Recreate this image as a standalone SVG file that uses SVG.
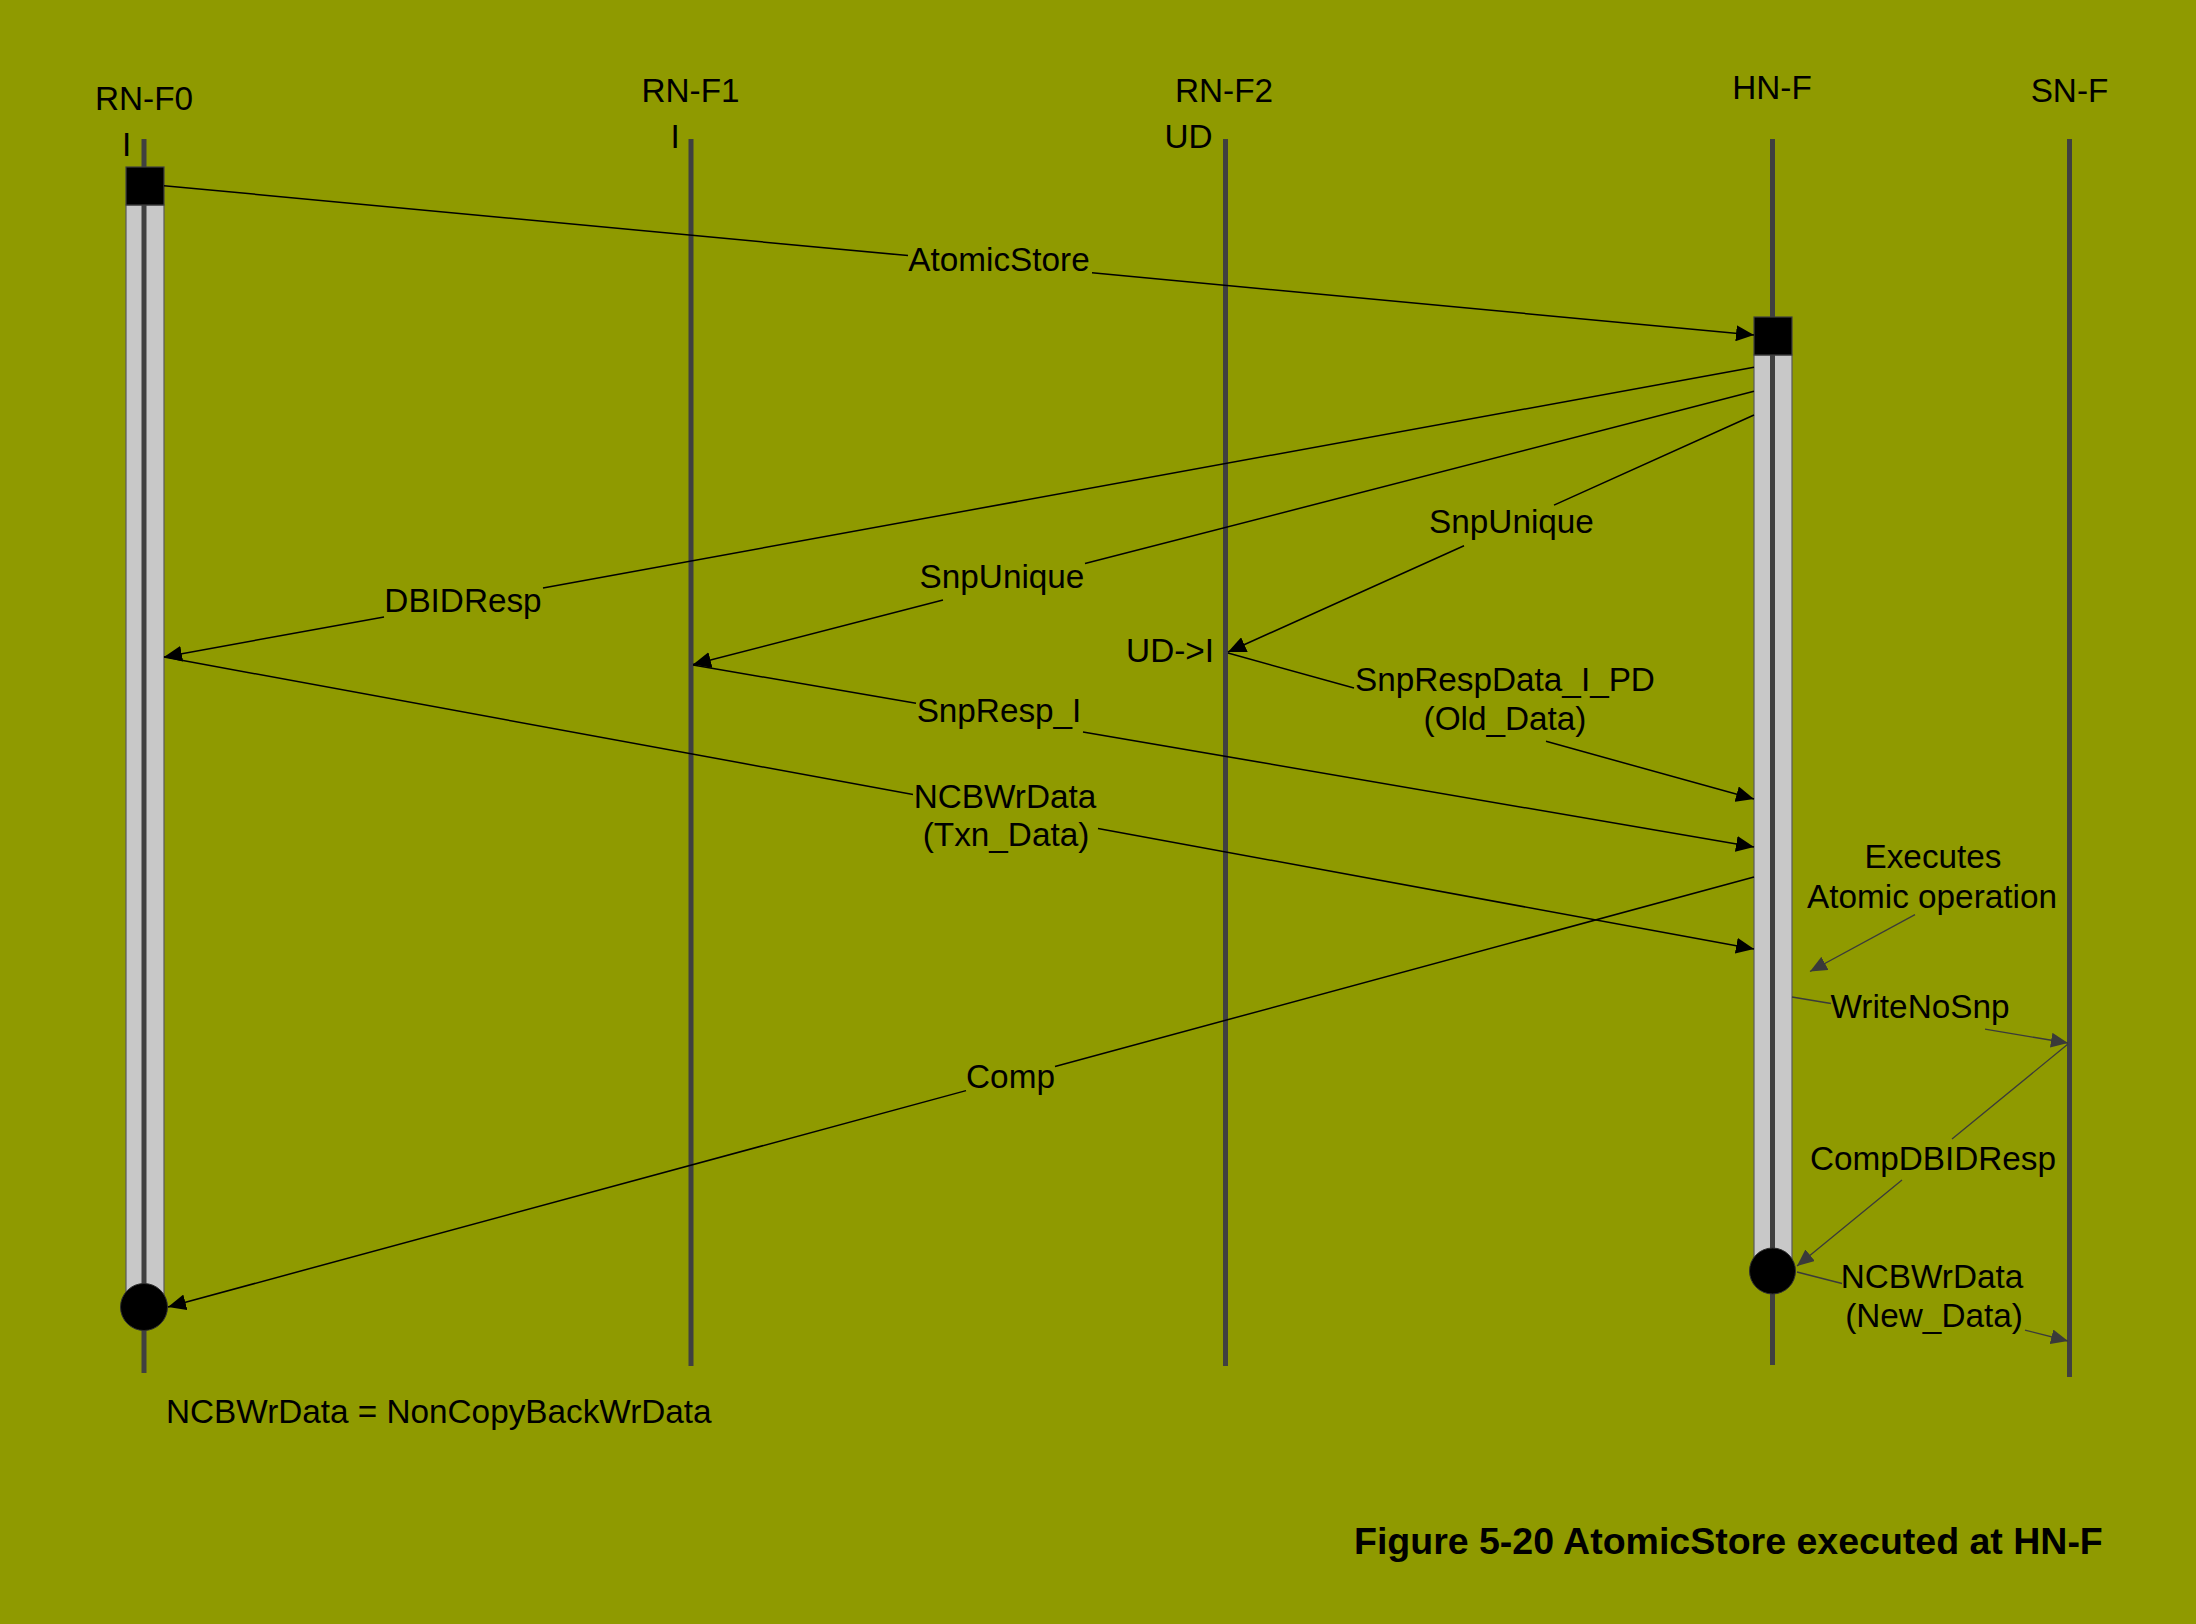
<svg xmlns="http://www.w3.org/2000/svg" width="2196" height="1624" viewBox="0 0 2196 1624">
  <defs>
    <style>
      .bg { fill: #8f9a00; }
      .life { stroke: #404040; stroke-width: 5; fill: none; }
      .bar { fill: #c8c8c8; stroke: #5a5a5a; stroke-width: 1.2; }
      .box { fill: #000000; stroke: #404040; stroke-width: 1.2; }
      .dot { fill: #000000; stroke: #303030; stroke-width: 1; }
      .t { font-family: "Liberation Sans", Arial, sans-serif; font-size: 33.3px; fill: #000000; }
      .c { text-anchor: middle; }
      .e { text-anchor: end; }
      .title { font-family: "Liberation Sans", Arial, sans-serif; font-size: 37.5px; font-weight: bold; fill: #000000; }
      .msg { stroke: #000000; stroke-width: 1.5; fill: none; marker-end: url(#ah); }
      .msg2 { stroke: #3a3a3a; stroke-width: 1.3; fill: none; marker-end: url(#ah2); }
    </style>
    <marker id="ah" markerUnits="userSpaceOnUse" markerWidth="18" markerHeight="16" refX="18" refY="8" orient="auto">
      <path d="M0,0 L18,8 L0,16 z" fill="#000000"/>
    </marker>
    <marker id="ah2" markerUnits="userSpaceOnUse" markerWidth="17" markerHeight="15" refX="17" refY="7.5" orient="auto">
      <path d="M0,0 L17,7.5 L0,15 z" fill="#3a3a3a"/>
    </marker>
  </defs>

  <rect class="bg" x="0" y="0" width="2196" height="1624"/>

  <g id="node-rnf0">
    <text class="t c" x="144" y="110">RN-F0</text>
    <text class="t" x="122" y="156">I</text>
    <rect class="bar" x="126" y="205" width="38" height="1102"/>
    <line class="life" x1="144" y1="139" x2="144" y2="1373"/>
    <rect class="box" x="126" y="167" width="38" height="38"/>
    <circle class="dot" cx="144" cy="1307" r="23.5"/>
  </g>

  <g id="node-rnf1">
    <text class="t c" x="690.5" y="102">RN-F1</text>
    <text class="t" x="670.5" y="148">I</text>
    <line class="life" x1="691" y1="139" x2="691" y2="1366"/>
  </g>

  <g id="node-rnf2">
    <text class="t c" x="1224" y="102">RN-F2</text>
    <text class="t e" x="1212.5" y="148">UD</text>
    <line class="life" x1="1225.5" y1="139" x2="1225.5" y2="1366"/>
    <text class="t e" x="1214" y="662">UD-&gt;I</text>
  </g>

  <g id="node-hnf">
    <text class="t c" x="1772" y="99">HN-F</text>
    <rect class="bar" x="1754" y="355" width="38" height="916"/>
    <line class="life" x1="1772.5" y1="139" x2="1772.5" y2="1365"/>
    <rect class="box" x="1754" y="317" width="38" height="38"/>
    <circle class="dot" cx="1772.5" cy="1271" r="23"/>
    <text class="t c" x="1933" y="868">Executes</text>
    <text class="t c" x="1932" y="908">Atomic operation</text>
  </g>

  <g id="node-snf">
    <text class="t c" x="2069.5" y="102">SN-F</text>
    <line class="life" x1="2069.5" y1="139" x2="2069.5" y2="1377"/>
  </g>

  <g id="connectors">
    <g id="m-atomicstore">
      <path class="msg" d="M164,185.7 L908,255.6 M1092,272.8 L1754,335"/>
      <text class="t c" x="999" y="271">AtomicStore</text>
    </g>
    <g id="m-dbidresp">
      <path class="msg" d="M1754,367.3 L543,587.9 M384,616.9 L164,657"/>
      <text class="t c" x="463" y="612">DBIDResp</text>
    </g>
    <g id="m-snpunique-f1">
      <path class="msg" d="M1754,391.3 L1085,563.6 M943,600.1 L693,664.5"/>
      <text class="t c" x="1002" y="588">SnpUnique</text>
    </g>
    <g id="m-snpunique-f2">
      <path class="msg" d="M1754,415 L1554,505.1 M1464,545.7 L1228,652"/>
      <text class="t c" x="1511.5" y="533">SnpUnique</text>
    </g>
    <g id="m-snprespdata">
      <path class="msg" d="M1228,653 L1354,688 M1546,741.3 L1754,799"/>
      <text class="t c" x="1505" y="691">SnpRespData_I_PD</text>
      <text class="t c" x="1505" y="730">(Old_Data)</text>
    </g>
    <g id="m-snpresp">
      <path class="msg" d="M693,665 L916,703.2 M1083,731.9 L1754,847"/>
      <text class="t c" x="999" y="722">SnpResp_I</text>
    </g>
    <g id="m-ncbwrdata-txn">
      <path class="msg" d="M164,657 L913,794.5 M1098,828.5 L1754,949"/>
      <text class="t c" x="1005" y="808">NCBWrData</text>
      <text class="t c" x="1006" y="846">(Txn_Data)</text>
    </g>
    <g id="m-comp">
      <path class="msg" d="M1754,877 L1055,1066.5 M966,1090.6 L168,1307"/>
      <text class="t c" x="1010.5" y="1088">Comp</text>
    </g>
    <g id="m-executes">
      <path class="msg2" d="M1915,914.6 L1810,971.5"/>
    </g>
    <g id="m-writenosnp">
      <path class="msg2" d="M1792,997 L1831,1003.5 M1985,1029.2 L2068,1043"/>
      <text class="t c" x="1920" y="1018">WriteNoSnp</text>
    </g>
    <g id="m-compdbidresp">
      <path class="msg2" d="M2068,1044 L1952,1139 M1902,1180 L1797,1266"/>
      <text class="t c" x="1933" y="1170">CompDBIDResp</text>
    </g>
    <g id="m-ncbwrdata-new">
      <path class="msg2" d="M1797,1272 L1842,1283.5 M2025,1330.1 L2068,1341"/>
      <text class="t c" x="1932" y="1288">NCBWrData</text>
      <text class="t c" x="1934" y="1327">(New_Data)</text>
    </g>
  </g>

  <text class="t" x="166" y="1423">NCBWrData = NonCopyBackWrData</text>
  <text class="title" x="1354" y="1554">Figure 5-20 AtomicStore executed at HN-F</text>
</svg>
